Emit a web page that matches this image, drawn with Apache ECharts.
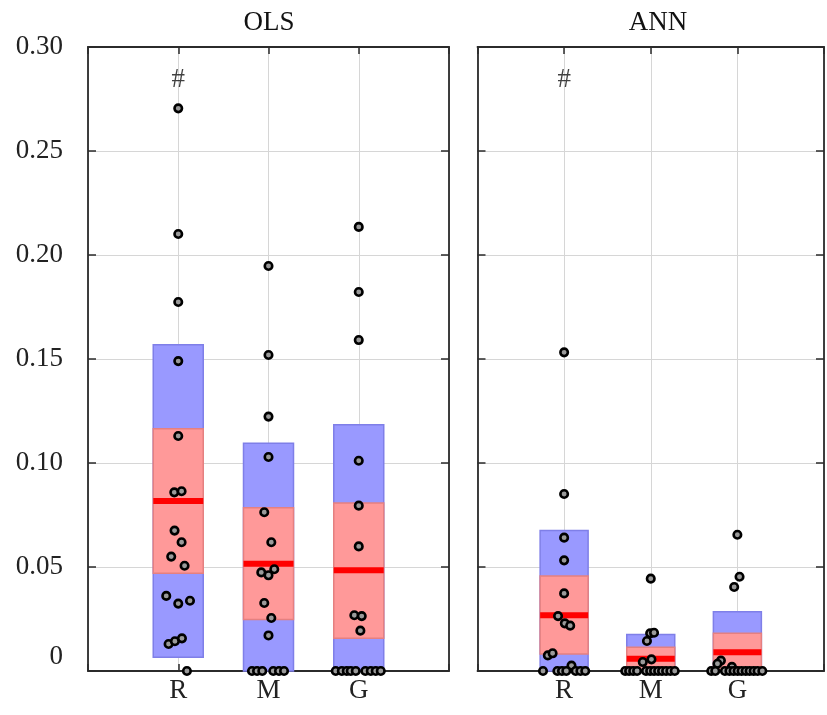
<!DOCTYPE html>
<html>
<head>
<meta charset="utf-8">
<script src="https://cdn.jsdelivr.net/npm/echarts@6/dist/echarts.min.js"></script>
<style>html,body{margin:0;padding:0;background:#fff;}#c{width:827px;height:715px;}</style>
</head>
<body>
<div id="c"></div>
<script>
// ---------- DATA ----------
const categories = ['R', 'M', 'G'];
const panels = ['OLS', 'ANN'];
const yTicks = [0, 0.05, 0.10, 0.15, 0.20, 0.25, 0.30];
const significance = [['#', '', ''], ['#', '', '']];

// box statistics per category (R, M, G)
const olsOuterLow  = [0.0066, 0, 0];
const olsOuterHigh = [0.1569, 0.1095, 0.1184];
const olsInnerLow  = [0.0470, 0.0248, 0.0157];
const olsInnerHigh = [0.1165, 0.0785, 0.0808];
const olsMedian    = [0.0817, 0.0516, 0.0484];

const annOuterLow  = [0, 0, 0];
const annOuterHigh = [0.0675, 0.0175, 0.0285];
const annInnerLow  = [0.0082, 0, 0];
const annInnerHigh = [0.0457, 0.0114, 0.0181];
const annMedian    = [0.0268, 0.0059, 0.0090];

// individual values and their horizontal jitter (in category units)
const olsR  = [0.2705, 0.2101, 0.1774, 0.1490, 0.1130, 0.0859, 0.0864, 0.0675, 0.0619, 0.0550, 0.0506, 0.0361, 0.0324, 0.0338, 0.0130, 0.0143, 0.0157, 0];
const olsRJ = [0, 0, 0, 0, 0, -0.044, 0.037, -0.041, 0.037, -0.078, 0.070, -0.133, 0, 0.130, -0.107, -0.037, 0.041, 0.096];
const olsM  = [0.1947, 0.1519, 0.1223, 0.1029, 0.0763, 0.0619, 0.0474, 0.0460, 0.0489, 0.0327, 0.0255, 0.0171, 0, 0, 0, 0, 0, 0];
const olsMJ = [0, 0, 0, 0, -0.047, 0.031, -0.080, 0, 0.064, -0.047, 0.031, 0, -0.183, -0.127, -0.069, 0.053, 0.116, 0.172];
const olsG  = [0.2135, 0.1822, 0.1591, 0.1011, 0.0795, 0.0599, 0.0268, 0.0264, 0.0194, 0, 0, 0, 0, 0, 0, 0, 0, 0];
const olsGJ = [0, 0, 0, 0, 0, 0, -0.049, 0.033, 0.018, -0.255, -0.188, -0.133, -0.089, -0.033, 0.073, 0.133, 0.188, 0.244];

const annR  = [0.1532, 0.0851, 0.0641, 0.0532, 0.0373, 0.0264, 0.0229, 0.0218, 0.0075, 0.0085, 0.0026, 0, 0, 0, 0, 0, 0, 0];
const annRJ = [0, 0, 0, 0, 0, -0.070, 0.008, 0.070, -0.188, -0.133, 0.085, -0.244, -0.078, -0.025, 0.025, 0.133, 0.188, 0.244];
const annM  = [0.0444, 0.0181, 0.0184, 0.0144, 0.0043, 0.0056, 0, 0, 0, 0, 0, 0, 0, 0, 0, 0, 0, 0];
const annMJ = [0, -0.007, 0.038, -0.044, -0.092, 0.008, -0.295, -0.250, -0.203, -0.158, -0.055, -0.007, 0.038, 0.085, 0.130, 0.177, 0.226, 0.277];
const annG  = [0.0655, 0.0453, 0.0404, 0.0050, 0.0035, 0.0020, 0, 0, 0, 0, 0, 0, 0, 0, 0, 0, 0, 0];
const annGJ = [0, 0.025, -0.037, -0.19, -0.23, -0.063, -0.302, -0.255, -0.144, -0.092, -0.044, 0.003, 0.048, 0.096, 0.141, 0.188, 0.233, 0.288];

// ---------- STYLE ----------
const FONT = 'Liberation Serif';
const BOX_HALF = 0.277;
const SIG_Y = 0.284;
const AXIS_COLOR = '#2b2b2b';

const stats = [
  {lo: olsOuterLow, hi: olsOuterHigh, ilo: olsInnerLow, ihi: olsInnerHigh, med: olsMedian},
  {lo: annOuterLow, hi: annOuterHigh, ilo: annInnerLow, ihi: annInnerHigh, med: annMedian}
];
const points = [
  [[olsR, olsRJ], [olsM, olsMJ], [olsG, olsGJ]],
  [[annR, annRJ], [annM, annMJ], [annG, annGJ]]
];

const chart = echarts.init(document.getElementById('c'), null, {renderer: 'canvas'});

const grids = [
  {left: 88, top: 47, width: 361, height: 624},
  {left: 477.5, top: 47, width: 361, height: 624}
];

const xAxes = [], yAxes = [], series = [];
panels.forEach((p, pi) => {
  const base = {
    type: 'value', min: 0, max: 4, interval: 1, gridIndex: pi,
    axisLine: {show: true, onZero: false, lineStyle: {color: AXIS_COLOR, width: 1.8}},
    axisTick: {show: true, inside: true, length: 7, lineStyle: {color: AXIS_COLOR, width: 1.5}},
  };
  xAxes.push(Object.assign({}, base, {
    position: 'bottom',
    splitLine: {show: true, lineStyle: {color: '#d6d6d6', width: 1}},
    axisLabel: {
      show: true, margin: 6, fontFamily: FONT, fontSize: 27, color: '#222',
      formatter: v => categories[v - 1] || ''
    }
  }));
  xAxes.push(Object.assign({}, base, {
    position: 'top', splitLine: {show: false}, axisLabel: {show: false}
  }));
  const ybase = {
    type: 'value', min: 0, max: 0.30, interval: 0.05, gridIndex: pi,
    axisLine: {show: true, onZero: false, lineStyle: {color: AXIS_COLOR, width: 1.8}},
    axisTick: {show: true, inside: true, length: 8, lineStyle: {color: AXIS_COLOR, width: 1.5}},
  };
  yAxes.push(Object.assign({}, ybase, {
    position: 'left',
    splitLine: {show: true, lineStyle: {color: '#d6d6d6', width: 1}},
    axisLabel: {
      show: pi === 0, margin: 25, fontFamily: FONT, fontSize: 27, color: '#222',
      formatter: v => {
        const idx = yTicks.findIndex(t => Math.abs(t - v) < 1e-9);
        if (idx < 0) return '';
        return v === 0 ? '{z|0}' : yTicks[idx].toFixed(2);
      },
      rich: {z: {fontFamily: FONT, fontSize: 27, color: '#222', padding: [0, 0, 28, 0]}}
    }
  }));
  yAxes.push(Object.assign({}, ybase, {
    position: 'right', splitLine: {show: false}, axisLabel: {show: false}
  }));

  const s = stats[pi];
  const boxData = categories.map((c, ci) => [ci + 1, s.lo[ci], s.hi[ci], s.ilo[ci], s.ihi[ci], s.med[ci]]);
  series.push({
    type: 'custom', xAxisIndex: pi * 2, yAxisIndex: pi * 2, z: 2,
    data: boxData,
    renderItem: (params, api) => {
      const x = api.value(0);
      const r = (lo, hi) => {
        const a = api.coord([x - BOX_HALF, hi]);
        const b = api.coord([x + BOX_HALF, lo]);
        return {x: a[0], y: a[1], width: b[0] - a[0], height: b[1] - a[1]};
      };
      const outer = r(api.value(1), api.value(2));
      const inner = r(api.value(3), api.value(4));
      const m = api.coord([x - BOX_HALF, api.value(5)]);
      const m2 = api.coord([x + BOX_HALF, api.value(5)]);
      return {
        type: 'group',
        children: [
          {type: 'rect', shape: outer, style: {fill: '#9999ff', stroke: '#7f7fe8', lineWidth: 1.5}},
          {type: 'rect', shape: inner, style: {fill: '#ff9999', stroke: '#e58080', lineWidth: 1.5}},
          {type: 'rect', shape: {x: m[0], y: m[1] - 3, width: m2[0] - m[0], height: 6}, style: {fill: '#ff0000'}}
        ]
      };
    }
  });

  const pts = [];
  points[pi].forEach((g, ci) => {
    g[0].forEach((v, k) => pts.push([ci + 1 + g[1][k], v]));
  });
  series.push({
    type: 'scatter', xAxisIndex: pi * 2, yAxisIndex: pi * 2, z: 4,
    symbol: 'circle', symbolSize: 7.5, clip: false,
    itemStyle: {color: '#9a9a9a', borderColor: '#000', borderWidth: 2.6, opacity: 1},
    data: pts
  });

  const sig = [];
  significance[pi].forEach((t, ci) => { if (t) sig.push({value: [ci + 1, SIG_Y], name: t}); });
  series.push({
    type: 'scatter', xAxisIndex: pi * 2, yAxisIndex: pi * 2, z: 5,
    symbolSize: 0, silent: true,
    label: {show: true, position: 'inside', formatter: d => d.name, fontFamily: FONT, fontSize: 27, color: '#111'},
    data: sig
  });
});

chart.setOption({
  animation: false,
  backgroundColor: '#fff',
  title: [
    {text: panels[0], left: 264, top: 4, textAlign: 'center', textStyle: {fontFamily: FONT, fontSize: 27, fontWeight: 'normal', color: '#111'}},
    {text: panels[1], left: 653, top: 4, textAlign: 'center', textStyle: {fontFamily: FONT, fontSize: 27, fontWeight: 'normal', color: '#111'}}
  ],
  grid: grids,
  xAxis: xAxes,
  yAxis: yAxes,
  series: series
});
</script>
</body>
</html>
